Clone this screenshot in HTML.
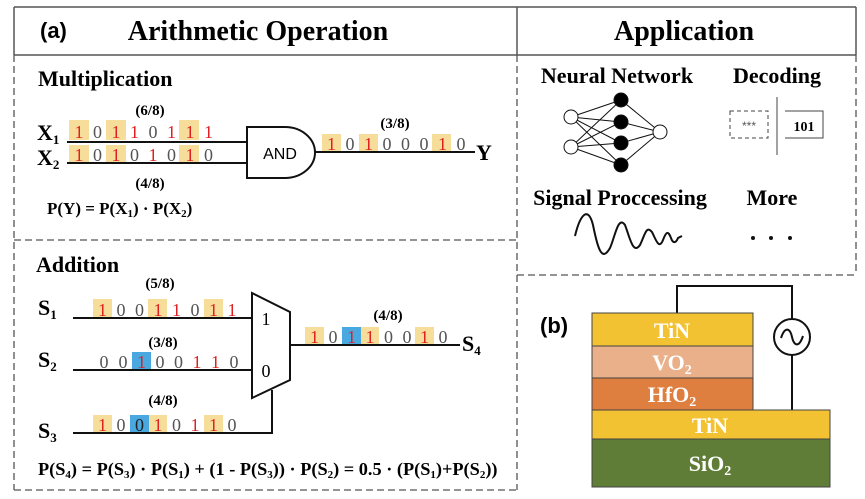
<!DOCTYPE html>
<html><head><meta charset="utf-8"><style>
body{margin:0;background:#fff}
svg{display:block}
.t{font-family:"Liberation Serif",serif;font-weight:bold}
.b{font-family:"Liberation Serif",serif;font-size:18px}
</style></head><body>
<svg width="865" height="499" viewBox="0 0 865 499" xmlns="http://www.w3.org/2000/svg">
<g stroke="#555" fill="none">
<line x1="14" y1="7" x2="856" y2="7" stroke-width="1.5"/>
<line x1="14" y1="7" x2="14" y2="55" stroke-width="1.5"/>
<line x1="856" y1="7" x2="856" y2="55" stroke-width="1.5"/>
<line x1="517" y1="7" x2="517" y2="55" stroke-width="1.5"/>
<line x1="14" y1="55" x2="856" y2="55" stroke-width="1.5"/>
<g stroke-dasharray="7,4" stroke-width="1.3">
<line x1="14" y1="55" x2="14" y2="490"/>
<line x1="14" y1="490" x2="517" y2="490"/>
<line x1="517" y1="55" x2="517" y2="490"/>
<line x1="14" y1="240" x2="517" y2="240"/>
<line x1="856" y1="55" x2="856" y2="275"/>
<line x1="517" y1="275" x2="856" y2="275"/>
</g></g>
<text x="40" y="38" font-family="Liberation Sans,sans-serif" font-weight="bold" font-size="22">(a)</text>
<text x="258" y="40" class="t" font-size="28" text-anchor="middle">Arithmetic Operation</text>
<text x="684" y="40" class="t" font-size="28" text-anchor="middle">Application</text>
<text x="38" y="86" class="t" font-size="22">Multiplication</text>
<text x="36" y="272" class="t" font-size="22">Addition</text>

<g fill="#f7dd9a">
<rect x="69" y="120" width="20" height="20"/><rect x="106" y="120" width="20" height="20"/><rect x="179" y="120" width="20" height="20"/>
<rect x="69" y="145" width="20" height="18"/><rect x="106" y="145" width="20" height="18"/><rect x="179" y="145" width="20" height="18"/>
<rect x="322" y="134" width="19" height="18"/><rect x="359" y="134" width="19" height="18"/><rect x="432" y="134" width="19" height="18"/>
</g>
<g class="b" text-anchor="middle">
<text x="79" y="138" fill="#e02020">1</text><text x="97.5" y="138" fill="#555">0</text><text x="116" y="138" fill="#e02020">1</text><text x="134.5" y="138" fill="#e02020">1</text><text x="153" y="138" fill="#555">0</text><text x="171.5" y="138" fill="#e02020">1</text><text x="190" y="138" fill="#e02020">1</text><text x="208.5" y="138" fill="#e02020">1</text>
<text x="79" y="161" fill="#e02020">1</text><text x="97.5" y="161" fill="#555">0</text><text x="116" y="161" fill="#e02020">1</text><text x="134.5" y="161" fill="#555">0</text><text x="153" y="161" fill="#e02020">1</text><text x="171.5" y="161" fill="#555">0</text><text x="190" y="161" fill="#e02020">1</text><text x="208.5" y="161" fill="#555">0</text>
<text x="331.5" y="150" fill="#e02020">1</text><text x="350" y="150" fill="#555">0</text><text x="368.5" y="150" fill="#e02020">1</text><text x="387" y="150" fill="#555">0</text><text x="405.5" y="150" fill="#555">0</text><text x="424" y="150" fill="#555">0</text><text x="442.5" y="150" fill="#e02020">1</text><text x="461" y="150" fill="#555">0</text>
</g>
<g stroke="#111" stroke-width="2" fill="none">
<line x1="67" y1="142" x2="247" y2="142"/><line x1="67" y1="163" x2="247" y2="163"/>
<line x1="315" y1="152" x2="475" y2="152"/>
<path d="M247,127 H285 A30,25.5 0 0 1 285,178 H247 Z" fill="#fff"/>
</g>
<text x="280" y="159" font-family="Liberation Sans,sans-serif" font-size="16" text-anchor="middle">AND</text>
<g class="t" font-size="15" text-anchor="middle">
<text x="150" y="115">(6/8)</text><text x="150" y="188">(4/8)</text><text x="395" y="128">(3/8)</text>
</g>
<g class="t" font-size="22">
<text x="37" y="140">X<tspan font-size="13" dy="4">1</tspan></text>
<text x="37" y="165">X<tspan font-size="13" dy="4">2</tspan></text>
<text x="476" y="160">Y</text>
</g>
<text x="47" y="214" class="t" font-size="17">P(Y) = P(X<tspan font-size="11" dy="3">1</tspan><tspan dy="-3">) · P(X</tspan><tspan font-size="11" dy="3">2</tspan><tspan dy="-3">)</tspan></text>

<g fill="#f7dd9a">
<rect x="93" y="299" width="19" height="19"/><rect x="148" y="299" width="19" height="19"/><rect x="204" y="299" width="19" height="19"/>
<rect x="93" y="415" width="19" height="18"/><rect x="148" y="415" width="19" height="18"/><rect x="204" y="415" width="19" height="18"/>
<rect x="305" y="327" width="19" height="18"/><rect x="360" y="327" width="19" height="18"/><rect x="415" y="327" width="19" height="18"/>
</g>
<g fill="#4aa8e0">
<rect x="132" y="352" width="19" height="18"/><rect x="130" y="415" width="19" height="18"/><rect x="342" y="327" width="19" height="18"/>
</g>
<g class="b" text-anchor="middle">
<text x="102.5" y="316" fill="#e02020">1</text><text x="121" y="316" fill="#555">0</text><text x="139.5" y="316" fill="#555">0</text><text x="158" y="316" fill="#e02020">1</text><text x="176.5" y="316" fill="#e02020">1</text><text x="195" y="316" fill="#555">0</text><text x="213.5" y="316" fill="#e02020">1</text><text x="232" y="316" fill="#e02020">1</text>
<text x="104" y="368" fill="#555">0</text><text x="123" y="368" fill="#555">0</text><text x="141.5" y="368" fill="#e02020">1</text><text x="160" y="368" fill="#555">0</text><text x="178.5" y="368" fill="#555">0</text><text x="197" y="368" fill="#e02020">1</text><text x="215.5" y="368" fill="#e02020">1</text><text x="234" y="368" fill="#555">0</text>
<text x="102.5" y="431" fill="#e02020">1</text><text x="121" y="431" fill="#555">0</text><text x="139.5" y="431" fill="#222">0</text><text x="158" y="431" fill="#e02020">1</text><text x="176.5" y="431" fill="#555">0</text><text x="195" y="431" fill="#e02020">1</text><text x="213.5" y="431" fill="#e02020">1</text><text x="232" y="431" fill="#555">0</text>
<text x="314.5" y="343" fill="#e02020">1</text><text x="333" y="343" fill="#555">0</text><text x="351.5" y="343" fill="#e02020">1</text><text x="370" y="343" fill="#e02020">1</text><text x="388.5" y="343" fill="#555">0</text><text x="407" y="343" fill="#555">0</text><text x="424.5" y="343" fill="#e02020">1</text><text x="443" y="343" fill="#555">0</text>
</g>
<g stroke="#111" stroke-width="2" fill="none">
<line x1="73" y1="318" x2="252" y2="318"/><line x1="73" y1="370" x2="252" y2="370"/>
<path d="M73,433 H272 V390"/>
<line x1="290" y1="345" x2="460" y2="345"/>
<polygon points="252,293 290,312 290,380 252,398" fill="#fff"/>
</g>
<text x="266" y="325" class="b" font-size="16" text-anchor="middle">1</text>
<text x="266" y="377" class="b" font-size="16" text-anchor="middle">0</text>
<g class="t" font-size="15" text-anchor="middle">
<text x="160" y="288">(5/8)</text><text x="163" y="347">(3/8)</text><text x="163" y="405">(4/8)</text><text x="388" y="320">(4/8)</text>
</g>
<g class="t" font-size="22">
<text x="38" y="315">S<tspan font-size="13" dy="4">1</tspan></text>
<text x="38" y="367">S<tspan font-size="13" dy="4">2</tspan></text>
<text x="38" y="438">S<tspan font-size="13" dy="4">3</tspan></text>
<text x="462" y="351">S<tspan font-size="13" dy="4">4</tspan></text>
</g>
<text x="38" y="475" class="t" font-size="18.3">P(S<tspan font-size="11" dy="3">4</tspan><tspan dy="-3">) = P(S</tspan><tspan font-size="11" dy="3">3</tspan><tspan dy="-3">) · P(S</tspan><tspan font-size="11" dy="3">1</tspan><tspan dy="-3">) + (1 - P(S</tspan><tspan font-size="11" dy="3">3</tspan><tspan dy="-3">)) · P(S</tspan><tspan font-size="11" dy="3">2</tspan><tspan dy="-3">) = 0.5 · (P(S</tspan><tspan font-size="11" dy="3">1</tspan><tspan dy="-3">)+P(S</tspan><tspan font-size="11" dy="3">2</tspan><tspan dy="-3">))</tspan></text>

<g class="t" font-size="22" text-anchor="middle">
<text x="617" y="83">Neural Network</text><text x="777" y="83">Decoding</text>
<text x="620" y="205">Signal Proccessing</text><text x="772" y="205">More</text>
</g>
<g stroke="#111" stroke-width="1">
<g>
<line x1="571" y1="117" x2="621" y2="100"/><line x1="571" y1="117" x2="621" y2="122"/><line x1="571" y1="117" x2="621" y2="143"/><line x1="571" y1="117" x2="621" y2="165"/>
<line x1="571" y1="147" x2="621" y2="100"/><line x1="571" y1="147" x2="621" y2="122"/><line x1="571" y1="147" x2="621" y2="143"/><line x1="571" y1="147" x2="621" y2="165"/>
<line x1="660" y1="132" x2="621" y2="100"/><line x1="660" y1="132" x2="621" y2="122"/><line x1="660" y1="132" x2="621" y2="143"/><line x1="660" y1="132" x2="621" y2="165"/>
</g>
<circle cx="571" cy="117" r="7" fill="#fff"/><circle cx="571" cy="147" r="7" fill="#fff"/><circle cx="660" cy="132" r="7" fill="#fff"/>
<circle cx="621" cy="100" r="7" fill="#000"/><circle cx="621" cy="122" r="7" fill="#000"/><circle cx="621" cy="143" r="7" fill="#000"/><circle cx="621" cy="165" r="7" fill="#000"/>
<rect x="730" y="111" width="38" height="27" fill="none" stroke-dasharray="4,3" stroke="#444"/>
<line x1="777" y1="97" x2="777" y2="155" stroke="#444"/>
<path d="M785,111 H823 V138 H785" fill="none" stroke="#444"/>
</g>
<text x="749" y="130" font-family="Liberation Sans,sans-serif" font-size="12" fill="#555" text-anchor="middle">***</text>
<text x="804" y="131" class="t" font-size="14" text-anchor="middle">101</text>
<path d="M575,236 C580,215 588,205 593,225 C598,250 602,262 610,248 C615,237 618,215 625,225 C630,238 633,255 640,245 C645,235 646,225 652,232 C656,240 659,250 663,240 C666,232 668,230 671,238 C673,244 676,243 678,238 L682,236" fill="none" stroke="#111" stroke-width="2"/>
<g fill="#111"><circle cx="753" cy="238" r="2"/><circle cx="771" cy="238" r="2"/><circle cx="790" cy="238" r="2"/></g>

<text x="540" y="333" font-family="Liberation Sans,sans-serif" font-weight="bold" font-size="22">(b)</text>
<g stroke="#111" stroke-width="2" fill="none">
<path d="M677,313 V286 H792 V319"/><path d="M792,355 V410"/>
<circle cx="792" cy="337" r="18" fill="#fff"/>
<path d="M781,338 C785,326 790,328 792,337 C794,346 799,348 803,336"/>
</g>
<g stroke="#444" stroke-width="1">
<rect x="592" y="313" width="161" height="33" fill="#f2c232"/>
<rect x="592" y="346" width="161" height="32" fill="#e9b08a"/>
<rect x="592" y="378" width="161" height="32" fill="#de7e3f"/>
<rect x="592" y="410" width="238" height="29" fill="#f2c232"/>
<rect x="592" y="439" width="238" height="48" fill="#5f7d37"/>
</g>
<g class="t" font-size="22" fill="#fff" text-anchor="middle">
<text x="672" y="338">TiN</text>
<text x="672" y="370">VO<tspan font-size="14" dy="4">2</tspan></text>
<text x="672" y="402">HfO<tspan font-size="14" dy="4">2</tspan></text>
<text x="710" y="433">TiN</text>
<text x="710" y="471">SiO<tspan font-size="14" dy="4">2</tspan></text>
</g>
</svg>
</body></html>
